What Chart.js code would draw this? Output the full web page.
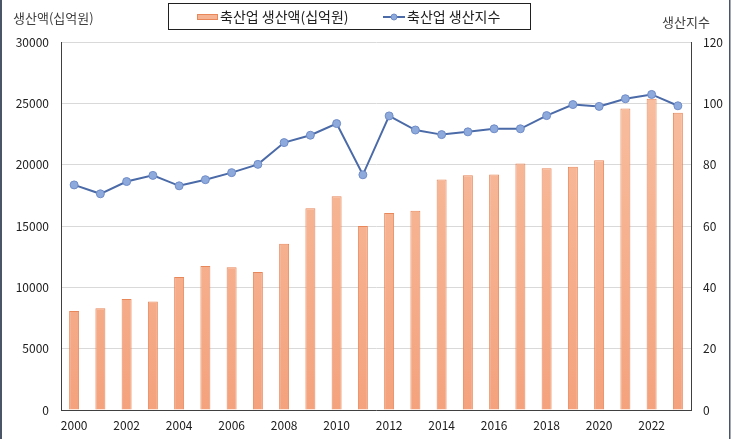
<!DOCTYPE html>
<html>
<head>
<meta charset="utf-8">
<script src="https://cdn.jsdelivr.net/npm/chart.js@4"></script>
<style>
  html, body { margin: 0; padding: 0; background: #fff; }
  #wrap { width: 740px; height: 439px; position: relative; }
</style>
</head>
<body>
<div id="wrap"><canvas id="myChart" width="740" height="439"></canvas></div>
<script>
const years = ["2000","2001","2002","2003","2004","2005","2006","2007","2008","2009","2010","2011",
  "2012","2013","2014","2015","2016","2017","2018","2019","2020","2021","2022","2023"];
// 축산업 생산액 (십억원)
const production = [8070, 8290, 9050, 8850, 10840, 11740, 11640, 11250, 13560, 16440, 17430, 14990,
  16050, 16250, 18800, 19130, 19200, 20100, 19700, 19840, 20350, 24570, 25380, 24240];
// 축산업 생산지수
const prodIndex = [73.4, 70.5, 74.5, 76.5, 73.1, 75.1, 77.4, 80.1, 87.2, 89.6, 93.4, 76.7,
  95.9, 91.3, 89.8, 90.7, 91.7, 91.7, 96.0, 99.6, 99.0, 101.5, 102.9, 99.2];

const FONT = "'Noto Sans CJK KR', 'Noto Sans', sans-serif";

// titles, legend box and frame lines drawn on the canvas
const decorations = {
  id: "decorations",
  afterDraw(chart) {
    const c = chart.ctx;
    c.save();
    c.fillStyle = "#4a5568";
    c.fillRect(0, 0, 2, 439);
    c.fillRect(729, 0, 1.5, 439);

    c.font = "13px " + FONT;
    c.fillStyle = "#404040";
    c.textBaseline = "middle";
    c.textAlign = "left";
    c.fillText("생산액(십억원)", 13, 18);
    c.fillText("생산지수", 662, 22);

    // legend box
    c.strokeStyle = "#202020";
    c.lineWidth = 1;
    c.strokeRect(168.5, 3.5, 362, 26);

    const bar = chart.data.datasets[0];
    const line = chart.data.datasets[1];
    c.fillStyle = "#f6b393";
    c.fillRect(197, 14, 21, 6);
    c.strokeStyle = "#e8875a";
    c.strokeRect(197.5, 14.5, 20, 5);
    c.font = "14px " + FONT;
    c.fillStyle = "#202020";
    c.fillText(bar.label, 220, 17);

    c.strokeStyle = "#4a6aa8";
    c.lineWidth = 2;
    c.beginPath();
    c.moveTo(383, 17);
    c.lineTo(405, 17);
    c.stroke();
    c.beginPath();
    c.arc(394, 17, 3, 0, Math.PI * 2);
    c.fillStyle = "#8ea9db";
    c.fill();
    c.lineWidth = 1;
    c.strokeStyle = "#6f8cc8";
    c.stroke();
    c.fillStyle = "#202020";
    c.fillText(line.label, 407, 17);
    c.restore();
  }
};

function barFill(context) {
  const chart = context.chart;
  const area = chart.chartArea;
  if (!area) return "#f6b393";
  const g = chart.ctx.createLinearGradient(0, area.top, 0, area.bottom);
  g.addColorStop(0, "#f8c2a4");
  g.addColorStop(1, "#f4a27d");
  return g;
}

const ctx = document.getElementById("myChart").getContext("2d");
new Chart(ctx, {
  data: {
    labels: years,
    datasets: [
      {
        type: "bar",
        label: "축산업 생산액(십억원)",
        data: production,
        yAxisID: "y",
        backgroundColor: barFill,
        borderColor: "#e8875a",
        borderWidth: 1,
        barPercentage: 0.38,
        categoryPercentage: 1,
        order: 2
      },
      {
        type: "line",
        label: "축산업 생산지수",
        data: prodIndex,
        yAxisID: "y1",
        borderColor: "#4a6aa8",
        borderWidth: 2,
        pointRadius: 4,
        pointBackgroundColor: "#8ea9db",
        pointBorderColor: "#6f8cc8",
        pointBorderWidth: 1,
        tension: 0,
        order: 1
      }
    ]
  },
  options: {
    responsive: false,
    animation: false,
    devicePixelRatio: 1,
    layout: { padding: { top: 42, left: 0, right: 0, bottom: 0 } },
    plugins: {
      legend: { display: false },
      tooltip: { enabled: false }
    },
    scales: {
      x: {
        offset: true,
        grid: { display: false, drawTicks: false },
        border: { color: "#404040", width: 1 },
        ticks: {
          autoSkip: false,
          maxRotation: 0,
          padding: 8,
          color: "#202020",
          font: { family: FONT, size: 12 },
          callback: function (v, i) { return i % 2 === 0 ? this.getLabelForValue(v) : ""; }
        },
        afterFit: (s) => { s.height = 29; }
      },
      y: {
        position: "left",
        min: 0,
        max: 30000,
        grid: { color: "#d9d9d9", drawTicks: false },
        border: { color: "#404040", width: 1 },
        ticks: {
          stepSize: 5000,
          padding: 12,
          color: "#202020",
          font: { family: FONT, size: 12 },
          callback: (v) => String(v)
        },
        afterFit: (s) => { s.width = 61; }
      },
      y1: {
        position: "right",
        min: 0,
        max: 120,
        grid: { display: false, drawTicks: false },
        border: { color: "#404040", width: 1 },
        ticks: {
          stepSize: 20,
          padding: 12,
          color: "#202020",
          font: { family: FONT, size: 12 },
          callback: (v) => String(v)
        },
        afterFit: (s) => { s.width = 49; }
      }
    }
  },
  plugins: [decorations]
});
</script>
</body>
</html>
